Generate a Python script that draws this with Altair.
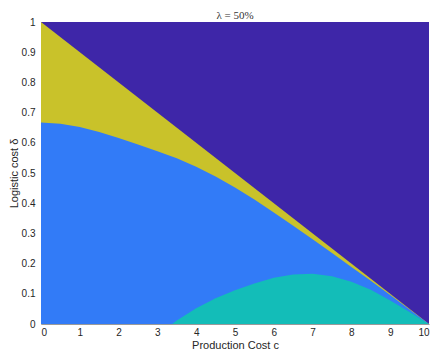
import altair as alt
import pandas as pd

# Region boundaries
c_full = [0, 10]
delta_full = [1, 1]

c_line = [0, 10]
delta_line = [1, 0]

c_blue = [0, 0.5, 1, 1.5, 2, 2.5, 3, 3.5, 4, 4.5, 5, 5.5, 6, 6.5, 7, 7.5, 8, 8.5, 9, 9.5, 10]
delta_blue = [0.667, 0.663, 0.652, 0.636, 0.616, 0.594, 0.572, 0.549, 0.521, 0.488, 0.452,
              0.412, 0.369, 0.325, 0.281, 0.235, 0.189, 0.143, 0.096, 0.048, 0.0]

c_teal = [3.38, 3.5, 4, 4.5, 5, 5.5, 6, 6.5, 7, 7.5, 8, 8.5, 9, 9.5, 10]
delta_teal = [0.0, 0.012, 0.052, 0.085, 0.112, 0.134, 0.153, 0.164, 0.166, 0.158, 0.14,
              0.113, 0.078, 0.04, 0.0]

x_ticks = list(range(0, 11))
y_ticks = [0, 0.1, 0.2, 0.3, 0.4, 0.5, 0.6, 0.7, 0.8, 0.9, 1]
title_text = ["λ = 50%"]

W, H = 388, 302

xs = alt.Scale(domain=[0, 10], nice=False, zero=False)
ys = alt.Scale(domain=[0, 1], nice=False, zero=True)

x_axis = alt.Axis(values=x_ticks, format="d")
y_axis = alt.Axis(values=y_ticks,
                  labelExpr="datum.value == 0 || datum.value == 1 ? format(datum.value, 'd') : format(datum.value, '.1f')",
                  titleX=-27, titleY=H / 2, titleAngle=270, titleBaseline="middle",
                  titleAlign="center")


def area(cs, ds, color):
    df = pd.DataFrame({"c": cs, "d": ds})
    return alt.Chart(df).mark_area(color=color, opacity=1, interpolate="linear").encode(
        x=alt.X("c:Q", scale=xs, title="Production Cost c", axis=x_axis),
        y=alt.Y("d:Q", scale=ys, title="Logistic cost δ", axis=y_axis),
        y2=alt.datum(0),
    )


title_layer = alt.Chart(pd.DataFrame({"t": title_text})).mark_text(
    font="Liberation Serif", fontSize=11, color="#333333", baseline="alphabetic", align="center"
).encode(x=alt.value(W / 2), y=alt.value(-3), text="t:N")

chart = alt.layer(
    area(c_full, delta_full, "#3E26A8"),
    area(c_line, delta_line, "#C9C22A"),
    area(c_blue, delta_blue, "#327BF7"),
    area(c_teal, delta_teal, "#13BDB8"),
    title_layer,
).properties(
    width=W,
    height=H,
    autosize=alt.AutoSizeParams(type="none"),
    padding={"left": 33, "top": 14, "right": 2, "bottom": 28},
).configure_view(
    stroke=None
).configure_axis(
    labelFont="Liberation Sans",
    labelFontSize=10,
    labelColor="#262626",
    titleFont="Liberation Sans",
    titleFontSize=11,
    titleFontWeight="normal",
    titleColor="#262626",
    grid=False,
    ticks=False,
    domainColor="#9a9a9a",
    domainWidth=1,
).configure_axisX(
    labelPadding=3,
    titlePadding=2,
).configure_axisY(
    labelPadding=6,
)

chart.save("out.html", embed_options={"renderer": "svg", "actions": False})
